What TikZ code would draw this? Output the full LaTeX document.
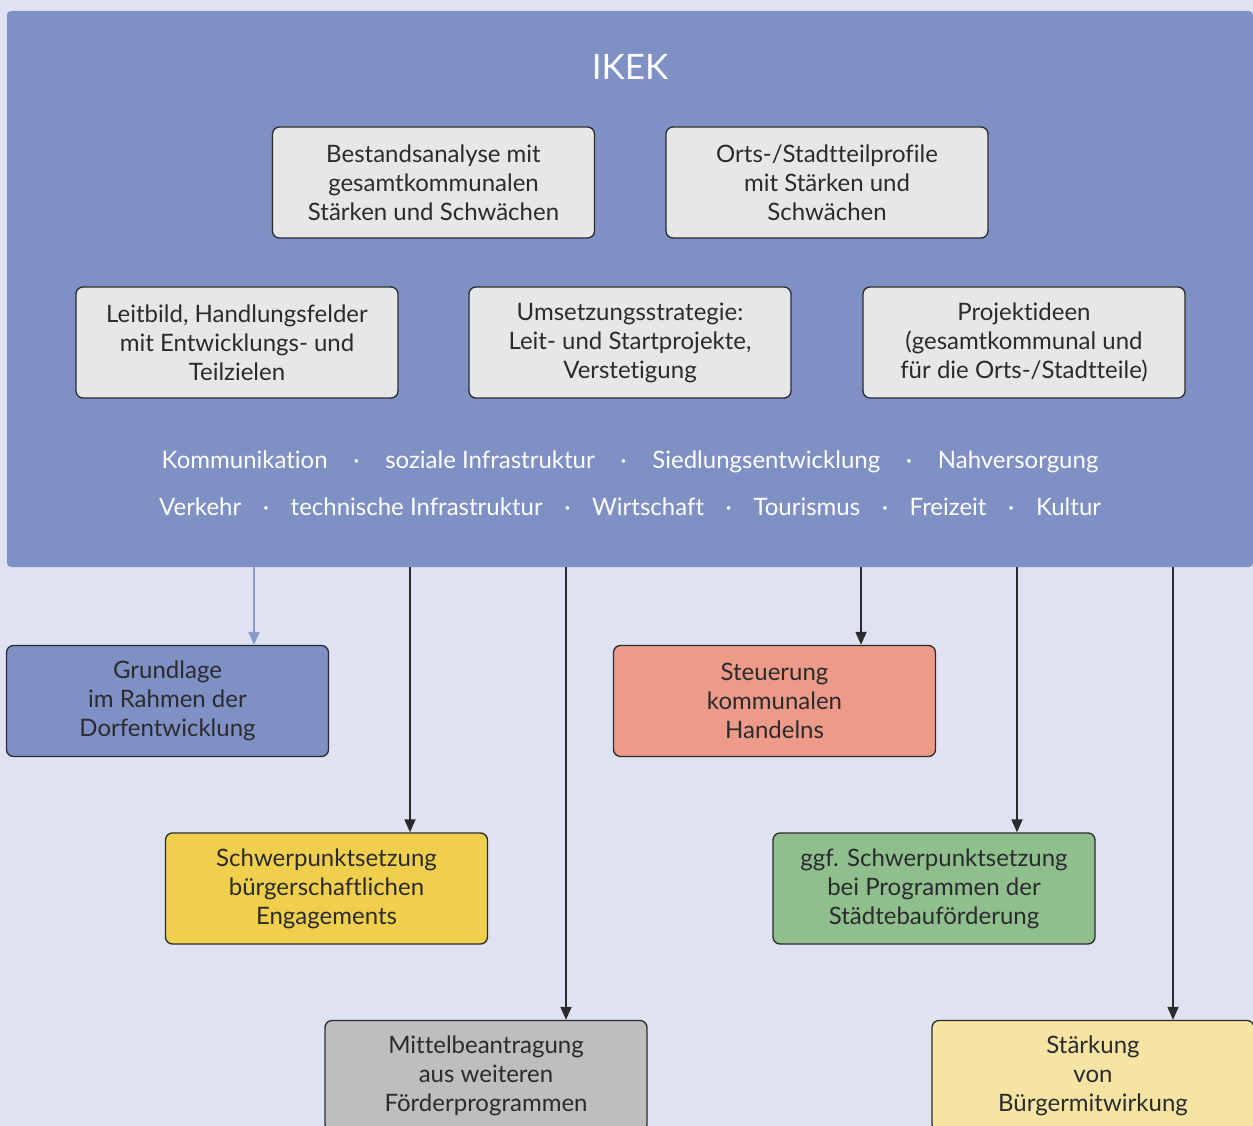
\documentclass[tikz,border=0pt]{standalone}
\usepackage{fontspec}
\setmainfont{Lato}[Ligatures=NoCommon]
\usepackage{tikz}
\definecolor{colorBG}{HTML}{DFE2F0}
\definecolor{colorIKEK}{HTML}{7E90C4}
\definecolor{colorCard}{HTML}{E6E8E8}
\definecolor{colorLine}{HTML}{2B2B2F}
\definecolor{colorSteer}{HTML}{EE9A88}
\definecolor{colorEngage}{HTML}{F0CF4C}
\definecolor{colorUrban}{HTML}{8FBF8C}
\definecolor{colorFunds}{HTML}{BEBEBE}
\definecolor{colorCitizen}{HTML}{F6E4A3}
\definecolor{colorArrBlue}{HTML}{8A9CCC}
\usetikzlibrary{arrows.meta}
\usetikzlibrary{positioning}
\tikzset{
   every path/.style={>={Triangle[length=13pt,width=11pt]}},
   card/.style={draw=colorLine,line width=1.3pt,rounded corners=7pt,fill=#1,
      minimum width=322pt,minimum height=111pt,inner sep=0pt,align=center,
      text=colorLine,font=\fontsize{24}{29}\selectfont},
   card/.default=colorCard,
   kw/.style={text=white,font=\fontsize{24}{29}\selectfont,inner sep=0pt},
   arr/.style={->,color=colorLine,line width=1.8pt},
   arrblue/.style={->,color=colorArrBlue,line width=1.8pt},
}
\newcommand{\kwsep}[1][0.9em]{\hspace{#1}·\hspace{#1}}

\begin{document}
\begin{tikzpicture}[x=1pt,y=-1pt]

        \useasboundingbox (0,0) rectangle (1253,1126);
        \clip (0,0) rectangle (1253,1126);
        \fill[colorBG] (0,0) rectangle (1253,1126);

        % IKEK frame
        \node[fill=colorIKEK,rounded corners=4pt,minimum width=1246pt,minimum height=556pt,inner sep=0pt] (ikek) at (630,289) {};
        \node[text=white,font=\fontsize{35}{35}\selectfont] (title) at (630,67) {IKEK};

        \node[card] (analyse) at (433.5,182.5) {Bestandsanalyse mit\\gesamtkommunalen\\Stärken und Schwächen};
        \node[card] (profile) at (827,182.5) {Orts-/Stadtteilprofile\\mit Stärken und\\Schwächen};

        \node[card] (leitbild) at (237,342.5) {Leitbild, Handlungsfelder\\mit Entwicklungs- und\\Teilzielen};
        \node[card] (strategie) at (630,342.5) {Umsetzungsstrategie:\\Leit- und Startprojekte,\\Verstetigung};
        \node[card] (ideen) at (1024,342.5) {Projektideen\\(gesamtkommunal und\\für die Orts-/Stadtteile)};

        \node[kw] (kw1) at (630,462) {Kommunikation\kwsep[1.07em]soziale Infrastruktur\kwsep[1.07em]Siedlungsentwicklung\kwsep[1.07em]Nahversorgung};
        \node[kw] (kw2) at (630,507) {Verkehr\kwsep technische Infrastruktur\kwsep Wirtschaft\kwsep Tourismus\kwsep Freizeit\kwsep Kultur};

        % results
        \node[card=colorIKEK] (grund) at (167.5,701) {Grundlage\\im Rahmen der\\Dorfentwicklung};
        \node[card=colorSteer] (steuer) at (774.5,701) {Steuerung\\kommunalen\\Handelns};
        \node[card=colorEngage] (engage) at (326.5,888.5) {Schwerpunktsetzung\\bürgerschaftlichen\\Engagements};
        \node[card=colorUrban] (urban) at (934,888.5) {ggf. Schwerpunktsetzung\\bei Programmen der\\Städtebauförderung};
        \node[card=colorFunds] (funds) at (486,1076) {Mittelbeantragung\\aus weiteren\\Förderprogrammen};
        \node[card=colorCitizen] (citizen) at (1093,1076) {Stärkung\\von\\Bürgermitwirkung};

        \coordinate (o1) at (254,567);
        \coordinate (o2) at (410,567);
        \coordinate (o3) at (566,567);
        \coordinate (o4) at (861,567);
        \coordinate (o5) at (1017,567);
        \coordinate (o6) at (1173,567);

        \draw[arrblue] (o1) -- (o1 |- grund.north);
        \draw[arr] (o2) -- (o2 |- engage.north);
        \draw[arr] (o3) -- (o3 |- funds.north);
        \draw[arr] (o4) -- (o4 |- steuer.north);
        \draw[arr] (o5) -- (o5 |- urban.north);
        \draw[arr] (o6) -- (o6 |- citizen.north);

      \end{tikzpicture}
\end{document}
